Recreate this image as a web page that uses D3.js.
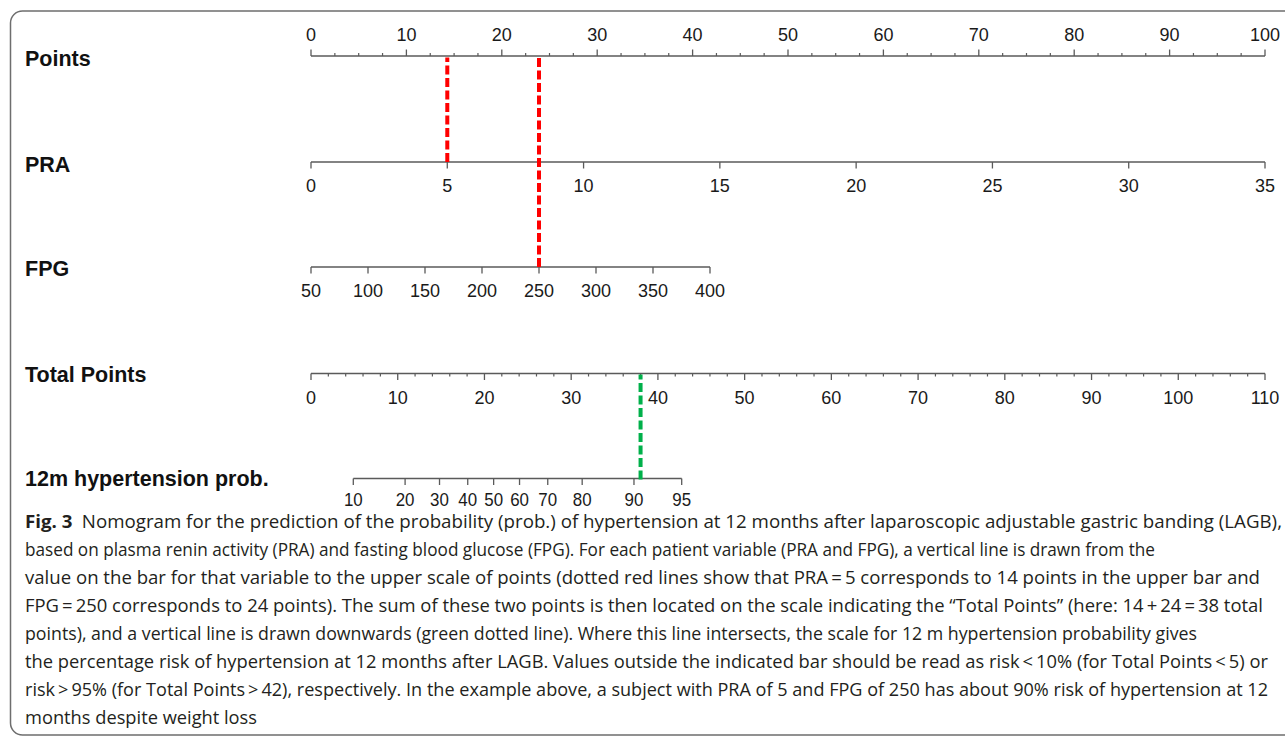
<!DOCTYPE html>
<html>
<head>
<meta charset="utf-8">
<script src="https://cdn.jsdelivr.net/npm/d3@7"></script>
<style>
  body { margin: 0; background: #fff; }
  svg { display: block; }
</style>
</head>
<body>
<svg id="nomogram" width="1285" height="736"></svg>
<script>
// axis ticks
const pointsTicks = [0, 10, 20, 30, 40, 50, 60, 70, 80, 90, 100];
const praTicks = [0, 5, 10, 15, 20, 25, 30, 35];
const fpgTicks = [50, 100, 150, 200, 250, 300, 350, 400];
const totalTicks = [0, 10, 20, 30, 40, 50, 60, 70, 80, 90, 100, 110];
const probTicks = [0.1, 0.2, 0.3, 0.4, 0.5, 0.6, 0.7, 0.8, 0.9, 0.95];
const probLabels = ["10", "20", "30", "40", "50", "60", "70", "80", "90", "95"];

// the worked example
const examplePRA = 5;
const exampleFPG = 250;
const exampleTotal = 38;

const rowNames = ["Points", "PRA", "FPG", "Total Points", "12m hypertension prob."];

const captionLines = [
  "Nomogram for the prediction of the probability (prob.) of hypertension at 12 months after laparoscopic adjustable gastric banding (LAGB),",
  "based on plasma renin activity (PRA) and fasting blood glucose (FPG). For each patient variable (PRA and FPG), a vertical line is drawn from the",
  "value on the bar for that variable to the upper scale of points (dotted red lines show that PRA\u2009=\u20095 corresponds to 14 points in the upper bar and",
  "FPG\u2009=\u2009250 corresponds to 24 points). The sum of these two points is then located on the scale indicating the \u201cTotal Points\u201d (here: 14\u2009+\u200924\u2009=\u200938 total",
  "points), and a vertical line is drawn downwards (green dotted line). Where this line intersects, the scale for 12 m hypertension probability gives",
  "the percentage risk of hypertension at 12 months after LAGB. Values outside the indicated bar should be read as risk\u2009<\u200910% (for Total Points\u2009<\u20095) or",
  "risk\u2009>\u200995% (for Total Points\u2009>\u200942), respectively. In the example above, a subject with PRA of 5 and FPG of 250 has about 90% risk of hypertension at 12",
  "months despite weight loss"
];
// right end of each caption line in the figure
const captionEnds = [1282, 1155, 1260, 1263, 1197, 1268, 1268, 257];

const svg = d3.select("#nomogram");
const axisColor = "#5a5a5a";
const tickFont = "'Liberation Sans', Arial, sans-serif";

// frame
svg.append("rect")
  .attr("x", 10.5).attr("y", 11)
  .attr("width", 1400).attr("height", 724)
  .attr("rx", 12)
  .attr("fill", "none")
  .attr("stroke", "#6e6e6e")
  .attr("stroke-width", 1.5);

const logit = (p) => Math.log(p / (1 - p));

const xPoints = d3.scaleLinear().domain([0, 100]).range([311, 1265]);
const xPRA = d3.scaleLinear().domain([0, 35]).range([311, 1265]);
const xFPG = d3.scaleLinear().domain([50, 400]).range([311, 710]);
const xTotal = d3.scaleLinear().domain([0, 110]).range([311, 1265]);
const xLogit = d3.scaleLinear().domain([logit(0.1), logit(0.95)]).range([353.3, 681.7]);
const xProb = (p) => xLogit(logit(p));

const rowY = { points: 56, pra: 162, fpg: 267, total: 373.5, prob: 478.5 };

function drawAxis(y, scale, ticks, labels, minor, up, narrow) {
  const g = svg.append("g").attr("transform", "translate(0," + y + ")");
  const dir = up ? -1 : 1;
  const x0 = scale(ticks[0]), x1 = scale(ticks[ticks.length - 1]);
  g.append("line")
    .attr("x1", x0).attr("x2", x1)
    .attr("stroke", axisColor).attr("stroke-width", 1.4);
  if (minor) {
    g.selectAll(".minor").data(minor).enter().append("line")
      .attr("class", "minor")
      .attr("x1", (d) => scale(d)).attr("x2", (d) => scale(d))
      .attr("y1", 0).attr("y2", dir * 3)
      .attr("stroke", axisColor).attr("stroke-width", 1.2);
  }
  g.selectAll(".major").data(ticks).enter().append("line")
    .attr("class", "major")
    .attr("x1", (d) => scale(d)).attr("x2", (d) => scale(d))
    .attr("y1", 0).attr("y2", dir * 6.5)
    .attr("stroke", axisColor).attr("stroke-width", 1.3);
  const lab = g.selectAll(".lab").data(ticks).enter().append("text")
    .attr("class", "lab")
    .attr("x", (d) => scale(d))
    .attr("y", up ? -15 : 30)
    .attr("text-anchor", "middle")
    .attr("font-family", tickFont)
    .attr("font-size", 18)
    .attr("fill", "#1a1a1a")
    .text((d, i) => labels[i]);
  if (narrow) {
    // condensed digits, as in the figure
    lab.attr("font-size", 18.5)
      .attr("y", 27.5)
      .attr("textLength", (d, i) => labels[i].length * 9.4)
      .attr("lengthAdjust", "spacingAndGlyphs");
  }
}

const pointsMinor = d3.range(0, 100.01, 2.5).filter((d) => d % 10 !== 0);
const totalMinor = d3.range(0, 110.01, 2).filter((d) => d % 10 !== 0);

drawAxis(rowY.points, xPoints, pointsTicks, pointsTicks.map(String), pointsMinor, true);
drawAxis(rowY.pra, xPRA, praTicks, praTicks.map(String), null, false);
drawAxis(rowY.fpg, xFPG, fpgTicks, fpgTicks.map(String), null, false);
drawAxis(rowY.total, xTotal, totalTicks, totalTicks.map(String), totalMinor, false);
drawAxis(rowY.prob, xProb, probTicks, probLabels, null, false, true);

// row names
const nameY = [66, 172, 276, 382, 486];
svg.selectAll(".rowname").data(rowNames).enter().append("text")
  .attr("class", "rowname")
  .attr("x", 25)
  .attr("y", (d, i) => nameY[i])
  .attr("font-family", tickFont)
  .attr("font-weight", "bold")
  .attr("font-size", 21.5)
  .attr("fill", "#111")
  .text((d) => d);

// example guide lines
const guides = [
  { x: xPRA(examplePRA), y1: rowY.points + 1.5, y2: rowY.pra, color: "#ff0000" },
  { x: xFPG(exampleFPG), y1: rowY.points + 1.5, y2: rowY.fpg, color: "#ff0000" },
  { x: xTotal(exampleTotal), y1: rowY.total + 1, y2: rowY.prob + 1, color: "#00b04a" }
];
svg.selectAll(".guide").data(guides).enter().append("line")
  .attr("class", "guide")
  .attr("x1", (d) => d.x).attr("x2", (d) => d.x)
  .attr("y1", (d) => d.y2).attr("y2", (d) => d.y1)
  .attr("stroke", (d) => d.color)
  .attr("stroke-width", 4)
  .attr("stroke-dasharray", "9,3.5");

// caption
const capFont = "'Open Sans', 'Noto Sans', sans-serif";
const cap = svg.append("g").attr("font-family", capFont).attr("fill", "#231f20");
const capSize = 17.6;
const lineGap = 28;
const capY0 = 528;
const capX = 25;

const first = cap.append("text").attr("x", capX).attr("y", capY0).attr("font-size", capSize);
first.append("tspan").attr("font-weight", "bold").text("Fig. 3");
first.append("tspan").text("\u2002" + captionLines[0]);
first.attr("textLength", captionEnds[0] - capX).attr("lengthAdjust", "spacingAndGlyphs");

cap.selectAll(".capline").data(captionLines.slice(1)).enter().append("text")
  .attr("class", "capline")
  .attr("x", capX)
  .attr("y", (d, i) => capY0 + (i + 1) * lineGap)
  .attr("font-size", capSize)
  .attr("textLength", (d, i) => captionEnds[i + 1] - capX)
  .attr("lengthAdjust", "spacingAndGlyphs")
  .text((d) => d);
</script>
</body>
</html>
